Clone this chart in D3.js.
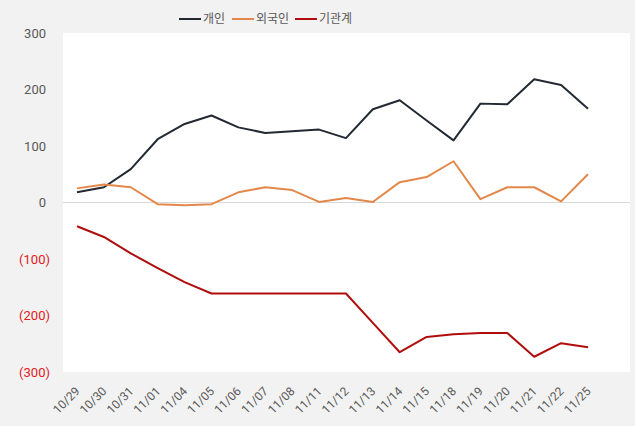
<!DOCTYPE html>
<html><head><meta charset="utf-8">
<script src="https://cdn.jsdelivr.net/npm/d3@7"></script>
<style>body{margin:0;background:#f2f2f2;}svg{display:block;font-family:"Noto Sans CJK KR","Noto Sans",sans-serif;}</style>
</head><body><svg id="c" width="635" height="426"></svg>
<script>
const categories = ["10/29","10/30","10/31","11/01","11/04","11/05","11/06","11/07","11/08","11/11","11/12","11/13","11/14","11/15","11/18","11/19","11/20","11/21","11/22","11/25"];
const individual = [18,27,59,112,139,154,133,123,126,129,114,165,181,145,110,175,174,218,208,166];
const foreign = [25,32,27,-3,-5,-3,18,27,22,1,8,1,36,45,73,6,27,27,2,50];
const institution = [-42,-61,-90,-116,-141,-161,-161,-161,-161,-161,-161,-213,-265,-238,-233,-231,-231,-273,-249,-256];
const yTicks = [300,200,100,0,-100,-200,-300];
const seriesNames = ["개인","외국인","기관계"];
const colors = ["#222933","#e3884a","#b00d0d"];

const svg = d3.select("#c");
svg.append("rect").attr("x",63).attr("y",33).attr("width",567).attr("height",339).attr("fill","#ffffff");
const x = d3.scalePoint().domain(categories).range([77,588]);
const y = d3.scaleLinear().domain([-300,300]).range([372,33]);

svg.append("line").attr("x1",63).attr("x2",630).attr("y1",y(0)).attr("y2",y(0)).attr("stroke","#d9d9d9").attr("stroke-width",1);

const yAxis = d3.axisLeft(y).tickValues(yTicks).tickSize(0).tickPadding(0)
  .tickFormat(d => d < 0 ? "(" + Math.abs(d) + ")" : String(d));
const ya = svg.append("g").attr("transform","translate(50,0)").call(yAxis);
ya.select(".domain").remove();
ya.selectAll("text").attr("font-size",13).attr("font-family","Roboto, 'Noto Sans', sans-serif")
  .attr("fill", d => d < 0 ? "#e0201c" : "#595959")
  .attr("dx", d => d < 0 ? 0 : -4);

const xAxis = d3.axisBottom(x).tickSize(0).tickPadding(0);
const xa = svg.append("g").attr("transform","translate(0,383)").call(xAxis);
xa.select(".domain").remove();
xa.selectAll("text").attr("font-size",12).attr("font-family","Roboto, 'Noto Sans', sans-serif").attr("fill","#595959")
  .attr("text-anchor","end").attr("dy","0.35em").attr("transform","translate(0,6) rotate(-45)");

const line = d3.line().x((d,i)=>x(categories[i])).y(d=>y(d));
[individual, foreign, institution].forEach((s,k)=>{
  svg.append("path").datum(s).attr("d",line).attr("fill","none").attr("stroke",colors[k]).attr("stroke-width",2).attr("stroke-linejoin","round");
});

const legX = [179,232,295];
seriesNames.forEach((n,k)=>{
  const g = svg.append("g").attr("transform",`translate(${legX[k]},19)`);
  g.append("line").attr("x1",0).attr("x2",22).attr("y1",0).attr("y2",0).attr("stroke",colors[k]).attr("stroke-width",2);
  g.append("text").attr("x",24).attr("y",0).attr("dy","0.35em").attr("font-size",12).attr("fill","#595959").text(n);
});
</script></body></html>
